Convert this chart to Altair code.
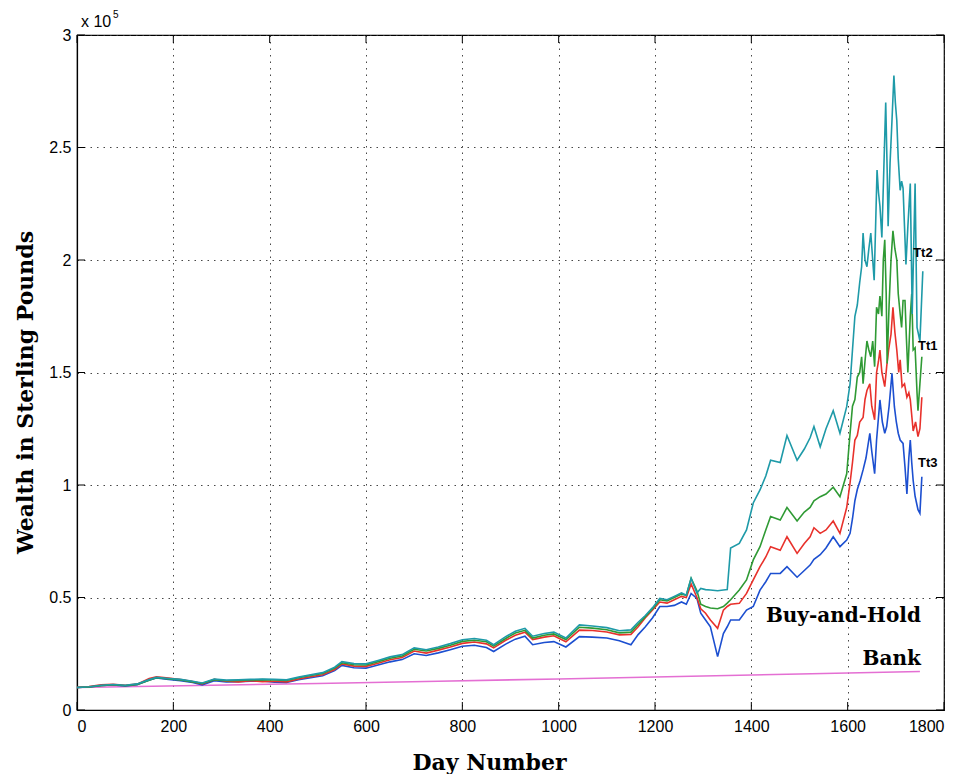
import altair as alt
import pandas as pd

# ---------------- data (values in thousands of pounds) ----------------
days_e = [0, 25, 50, 75, 100, 125, 150, 165, 190, 215, 240, 260, 285, 310, 335, 360, 385, 410, 435, 460,
          485, 510, 535, 550, 575, 600, 625, 650, 675, 700, 725, 750, 775, 800, 825, 850, 865, 890, 910, 930,
          946, 970, 990, 1015, 1043, 1070, 1100, 1126, 1150]
tt2_e = [10, 10.3, 11, 11.3, 11, 11.6, 13.5, 14.5, 14, 13.6, 12.8, 12, 13.8, 13.3, 13.4, 13.6, 13.8, 13.6, 13.4, 14.6,
         15.6, 16.6, 19, 21.5, 20.6, 20.5, 22, 23.6, 24.6, 27.6, 26.8, 28, 29.5, 31.2, 31.8, 31, 29, 32.6, 35, 36.3,
         32.8, 34, 34.6, 32, 37.8, 37.3, 36.6, 35.2, 35.6]
tt1_e = [10, 10.2, 10.8, 11.2, 10.8, 11.4, 13.2, 14.3, 13.8, 13.4, 12.5, 11.8, 13.5, 13.0, 13.1, 13.3, 13.5, 13.3, 13.1, 14.3,
         15.3, 16.2, 18.6, 21, 20.1, 20, 21.5, 23, 24, 27, 26.2, 27.4, 28.8, 30.5, 31, 30.3, 28.4, 31.8, 34.2, 35.4,
         32, 33.2, 33.8, 31.3, 36.8, 36.4, 35.7, 34.3, 34.6]
bh_e = [10, 10.4, 11.2, 11.4, 11, 11.5, 14, 14.8, 14.2, 13.5, 12.6, 11.6, 13.6, 12.8, 12.5, 13, 12.6, 12.8, 12.5, 13.8,
        14.8, 15.7, 18, 20.5, 19.5, 19.4, 20.8, 22.3, 23.3, 26.2, 25.3, 26.6, 28, 29.6, 30.2, 29.4, 27.6, 31, 33.2, 34.6,
        31.3, 32.4, 33, 30.3, 35.5, 35.3, 34.7, 33.4, 33.6]
tt3_e = [10, 10.2, 10.9, 11.1, 10.7, 11.2, 13.3, 14.2, 13.6, 13, 12.2, 11.2, 13, 12.5, 12.6, 12.8, 12.9, 12.4, 12.2, 13.5,
         14.3, 15.2, 17.5, 19.8, 18.8, 18.6, 20, 21.4, 22.4, 25, 24.2, 25.4, 26.8, 28.3, 28.8, 27.8, 26, 29.3, 31.5, 32.8,
         29, 30, 30.4, 28, 32.6, 32.4, 32, 30.8, 29]

days_m = [1165, 1180, 1195, 1210, 1225, 1240, 1255, 1265, 1275, 1287, 1295, 1305, 1315, 1330, 1342, 1350, 1357,
          1375, 1390, 1404, 1418, 1430, 1440, 1460, 1474, 1495, 1510, 1522, 1530, 1543, 1555, 1570, 1584, 1598]
tt2_m = [39, 42, 45.5, 49.6, 49, 50.5, 52, 51, 58.5, 52, 54, 53.5, 53.3, 53, 53.3, 53.5, 72,
         74, 80, 92, 97.8, 104, 111, 110, 122, 111, 116, 121, 126, 117, 125, 133, 123, 134.8]
tt1_m = [38, 41.5, 45, 49, 48.5, 50, 51.5, 51, 58.5, 53, 47, 46, 45.3, 45, 46, 47.5, 49,
         53.3, 57.8, 66.7, 72.6, 80, 86, 84.4, 90, 84, 88, 90, 93, 94.8, 96, 99, 94.8, 105]
bh_m = [37, 41, 44.5, 48, 47.5, 49, 50.5, 50, 56, 50, 45, 43, 40, 36.3, 44.4, 46, 47,
        47.4, 51.8, 57.8, 63.7, 68, 72.6, 71, 77, 69.6, 74, 77, 81, 78.5, 80, 84, 78.5, 90]
tt3_m = [33.5, 37, 41, 46, 46, 46.5, 48, 47, 51.8, 49.6, 43, 40, 37, 23.7, 34, 37, 40,
         40, 44.4, 46, 53.3, 57, 60.7, 60.7, 63.7, 59, 62, 64.4, 67, 69, 72, 77, 72.6, 75.5]

tt2_late_days = [1605, 1610, 1615, 1620, 1625, 1629, 1632, 1636, 1640, 1644, 1648, 1652, 1655, 1658, 1661, 1664,
                 1667, 1671, 1675, 1679, 1682, 1684, 1688, 1692, 1696, 1699, 1702, 1705, 1709, 1712, 1715, 1718,
                 1721, 1725, 1730, 1734, 1737, 1740, 1744, 1750, 1756]
tt2_late = [145, 160, 175, 180, 190, 197, 212, 200, 197, 205, 212, 200, 191, 215, 240, 230,
            224, 210, 240, 270, 240, 215, 243, 262, 282, 270, 262, 245, 231, 235, 232, 215,
            198, 215, 234, 176, 205, 234, 170, 164, 195]
tt1_late_days = [1605, 1610, 1615, 1620, 1625, 1629, 1632, 1636, 1640, 1644, 1648, 1652, 1656, 1660, 1664, 1667,
                 1671, 1674, 1677, 1680, 1682, 1686, 1690, 1694, 1698, 1702, 1705, 1709, 1712, 1715, 1719, 1722,
                 1725, 1730, 1733, 1736, 1740, 1744, 1746, 1750, 1754]
tt1_late = [123, 135, 138, 148, 150, 157, 145, 155, 164, 160, 157, 164, 152.6, 179, 176, 184,
            175, 200, 209, 185, 154, 180, 200, 213, 205, 200, 185, 176, 170, 182, 182, 165,
            150, 175, 185, 160, 161, 141, 133, 145, 157]
bh_late_days = [1605, 1610, 1615, 1620, 1625, 1632, 1636, 1640, 1646, 1650, 1656, 1660, 1664, 1667, 1671, 1677,
                1681, 1685, 1690, 1694, 1698, 1702, 1706, 1709, 1713, 1718, 1723, 1727, 1730, 1736, 1741, 1746,
                1750, 1754]
bh_late = [101, 110, 120, 122, 128, 130, 138, 142, 145, 135, 129, 150, 155, 160, 150, 143.7,
           152.6, 160, 167, 179, 168, 160, 150, 155.6, 143.7, 145, 139, 141, 138, 124, 128, 121.5,
           125, 139]
tt3_late_days = [1605, 1610, 1615, 1620, 1626, 1632, 1638, 1646, 1650, 1656, 1660, 1667, 1672, 1677, 1681, 1686,
                 1692, 1697, 1701, 1705, 1709, 1715, 1719, 1723, 1727, 1730, 1733, 1736, 1740, 1746, 1750, 1754]
tt3_late = [78.5, 85, 93, 98, 102, 106.7, 112, 123, 115, 105, 120, 137.8, 128, 123, 126, 135,
            149.6, 134.8, 128, 123, 120, 118.5, 108, 96, 112, 120, 110, 102, 95, 89, 87.4, 103.7]

bank_days = [0, 250, 500, 750, 1000, 1250, 1500, 1750]
bank_vals = [10, 10.9, 11.8, 12.8, 13.8, 14.9, 16.0, 17.1]

x_ticks = [0, 200, 400, 600, 800, 1000, 1200, 1400, 1600, 1800]
y_ticks = [0, 50, 100, 150, 200, 250, 300]

series_names = ["Bank", "Tt3", "Buy-and-Hold", "Tt1", "Tt2"]
series_colors = ["#e46fd3", "#1c4fd0", "#e8312b", "#2f9a34", "#1e9aa8"]

labels_sans = ["Tt2", "Tt1", "Tt3"]
labels_sans_day = [1736, 1746, 1746]
labels_sans_val = [203, 162, 110]
labels_serif = ["Buy-and-Hold", "Bank"]
labels_serif_day = [1752, 1752]
labels_serif_val = [42, 22.7]

# ---------------- tables ----------------
def frame(name, days, vals):
    return pd.DataFrame({"day": days, "value": vals, "series": name})

series_frames = {
    "Bank": frame("Bank", bank_days, bank_vals),
    "Tt3": frame("Tt3", days_e + days_m + tt3_late_days, tt3_e + tt3_m + tt3_late),
    "Buy-and-Hold": frame("Buy-and-Hold", days_e + days_m + bh_late_days, bh_e + bh_m + bh_late),
    "Tt1": frame("Tt1", days_e + days_m + tt1_late_days, tt1_e + tt1_m + tt1_late),
    "Tt2": frame("Tt2", days_e + days_m + tt2_late_days, tt2_e + tt2_m + tt2_late),
}

W, H = 867, 675
xscale = alt.Scale(domain=[0, 1800], nice=False, zero=False)
yscale = alt.Scale(domain=[0, 300], nice=False)

x_axis = alt.Axis(values=x_ticks, title="Day Number", grid=True, tickSize=0, format="d",
                  labelPadding=8, titleX=412, titleY=59, titleBaseline="alphabetic")
y_axis = alt.Axis(values=y_ticks, title="Wealth in Sterling Pounds", grid=True, tickSize=0,
                  labelPadding=6, titlePadding=11, titleY=357,
                  labelExpr="format(datum.value/100, '~g')")


def X(field):
    return alt.X(field, scale=xscale, axis=x_axis)


def Y(field):
    return alt.Y(field, scale=yscale, axis=y_axis)


color_scale = alt.Scale(domain=series_names, range=series_colors)

layers = []
for name in series_names:
    layers.append(
        alt.Chart(series_frames[name]).mark_line(strokeWidth=1.6).encode(
            x=X("day:Q"), y=Y("value:Q"),
            color=alt.Color("series:N", scale=color_scale, legend=None),
        )
    )

# inward ticks (MATLAB style) on all four sides
xt = pd.DataFrame({"t": x_ticks})
yt = pd.DataFrame({"t": y_ticks})
layers.append(alt.Chart(xt).mark_rule(color="black").encode(x=X("t:Q"), y=alt.value(H), y2=alt.value(H - 8)))
layers.append(alt.Chart(xt).mark_rule(color="black").encode(x=X("t:Q"), y=alt.value(0), y2=alt.value(8)))
layers.append(alt.Chart(yt).mark_rule(color="black").encode(y=Y("t:Q"), x=alt.value(0), x2=alt.value(8)))
layers.append(alt.Chart(yt).mark_rule(color="black").encode(y=Y("t:Q"), x=alt.value(W), x2=alt.value(W - 8)))

# labels
lab1 = pd.DataFrame({"day": labels_sans_day, "value": labels_sans_val, "text": labels_sans})
lab2 = pd.DataFrame({"day": labels_serif_day, "value": labels_serif_val, "text": labels_serif})
layers.append(alt.Chart(lab1).mark_text(font="Liberation Sans", fontWeight="bold", fontSize=13,
                                        align="left", baseline="middle", color="black").encode(
    x=X("day:Q"), y=Y("value:Q"), text="text:N"))
layers.append(alt.Chart(lab2).mark_text(font="DejaVu Serif", fontWeight="bold", fontSize=20,
                                        align="right", baseline="middle", color="black").encode(
    x=X("day:Q"), y=Y("value:Q"), text="text:N"))

# exponent label
expo_base = pd.DataFrame({"t": ["x 10"]})
expo_pow = pd.DataFrame({"t": ["5"]})
layers.append(alt.Chart(expo_base).mark_text(font="Liberation Sans", fontSize=16, align="left",
                                             baseline="middle", color="black").encode(
    text="t:N", x=alt.value(4), y=alt.value(-13)))
layers.append(alt.Chart(expo_pow).mark_text(font="Liberation Sans", fontSize=10, align="left",
                                            baseline="middle", color="black").encode(
    text="t:N", x=alt.value(36), y=alt.value(-20)))

chart = alt.layer(*layers).properties(
    width=W, height=H,
    autosize=alt.AutoSizeParams(type="none"),
    padding={"left": 69, "top": 27, "right": 12, "bottom": 64},
    background="white",
).configure_view(
    stroke="black", strokeWidth=1.2
).configure_axis(
    gridDash=[1.5, 5], gridColor="#333333", gridOpacity=0.9, gridWidth=1,
    domainColor="black", domainWidth=1.2,
    labelFont="Liberation Sans", labelFontSize=16, labelColor="black",
    titleFont="DejaVu Serif", titleFontSize=22, titleFontWeight="bold", titleColor="black",
)

chart.save("out.html", embed_options={"renderer": "svg", "actions": False})
